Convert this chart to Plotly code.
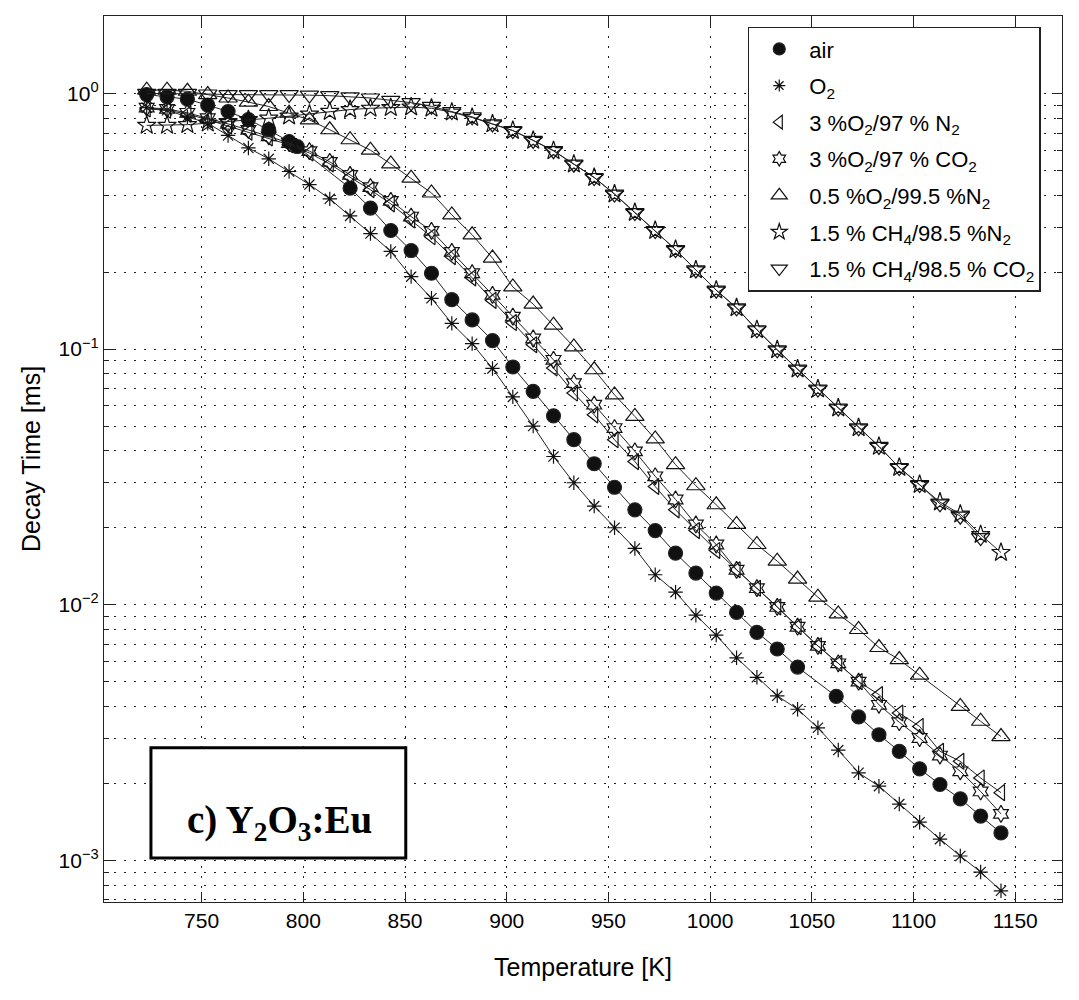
import plotly.graph_objects as go

# temperature grid of the measurements [K]
T = [723, 733, 743, 753, 763, 773, 783, 793, 803, 813, 823, 833, 843, 853, 863,
     873, 883, 893, 903, 913, 923, 933, 943, 953, 963, 973, 983, 993, 1003, 1013,
     1023, 1033, 1043, 1053, 1063, 1073, 1083, 1093, 1103, 1113, 1123, 1133, 1143]
T_air = [723, 733, 743, 753, 763, 773, 783, 793, 797, 823, 833, 843, 853, 863,
         873, 883, 893, 903, 913, 923, 933, 943, 953, 963, 973, 983, 993, 1003,
         1013, 1023, 1033, 1043, 1062, 1073, 1083, 1093, 1103, 1113, 1123, 1133, 1143]
T_05 = [723, 733, 743, 753, 763, 773, 783, 793, 803, 813, 823, 833, 843, 853, 863,
        873, 883, 893, 903, 913, 923, 933, 943, 953, 963, 973, 983, 993, 1003, 1013,
        1023, 1033, 1043, 1053, 1063, 1073, 1083, 1093, 1103, 1123, 1133, 1143]
T_ch4co2 = [723, 733, 743, 753, 763, 773, 783, 793, 803, 813, 823, 833, 843, 853, 863,
            873, 883, 893, 903, 913, 923, 933, 943, 953, 963, 973, 983, 993, 1003, 1013,
            1023, 1033, 1043, 1053, 1063, 1073, 1083, 1093, 1103, 1113, 1123, 1133]

# decay times [ms]
tau_air = [0.99, 0.97, 0.95, 0.90, 0.85, 0.79, 0.72, 0.648, 0.62, 0.426, 0.356, 0.291,
           0.243, 0.198, 0.156, 0.130, 0.108, 0.0851, 0.0683, 0.0548, 0.0442, 0.0356,
           0.0288, 0.0235, 0.0195, 0.0159, 0.0133, 0.0111, 0.00933, 0.0078, 0.00671,
           0.0057, 0.00438, 0.00364, 0.0031, 0.00267, 0.00228, 0.00198, 0.00174,
           0.00149, 0.00128]
tau_o2 = [0.88, 0.86, 0.81, 0.765, 0.685, 0.612, 0.555, 0.495, 0.44, 0.387, 0.332,
          0.283, 0.241, 0.192, 0.158, 0.126, 0.105, 0.084, 0.065, 0.050, 0.038, 0.030,
          0.0243, 0.020, 0.0166, 0.0131, 0.0112, 0.0091, 0.0076, 0.0062, 0.0052,
          0.0044, 0.0039, 0.0033, 0.0027, 0.0022, 0.00195, 0.00166, 0.00141, 0.00121,
          0.00104, 0.0009, 0.00076]
tau_3o2_n2 = [0.87, 0.86, 0.83, 0.79, 0.745, 0.705, 0.67, 0.63, 0.585, 0.53, 0.47,
              0.42, 0.37, 0.32, 0.275, 0.23, 0.19, 0.155, 0.127, 0.104, 0.0843, 0.0673,
              0.0553, 0.0442, 0.0363, 0.029, 0.0235, 0.0195, 0.0163, 0.0137, 0.0116,
              0.0098, 0.0082, 0.0069, 0.0059, 0.0050, 0.00445, 0.00377, 0.00334,
              0.00267, 0.00244, 0.0021, 0.00184]
tau_3o2_co2 = [0.88, 0.87, 0.84, 0.80, 0.76, 0.72, 0.68, 0.64, 0.595, 0.54, 0.48,
               0.43, 0.38, 0.33, 0.29, 0.24, 0.198, 0.163, 0.134, 0.110, 0.0908, 0.0736,
               0.0606, 0.0491, 0.0398, 0.0318, 0.0258, 0.0206, 0.0172, 0.0137, 0.0116,
               0.0098, 0.0082, 0.0069, 0.0059, 0.0050, 0.00406, 0.00347, 0.00301,
               0.00257, 0.00223, 0.00186, 0.00152]
tau_05o2_n2 = [1.03, 1.03, 1.02, 0.99, 0.96, 0.925, 0.889, 0.837, 0.788, 0.721, 0.659,
               0.600, 0.530, 0.466, 0.408, 0.335, 0.280, 0.227, 0.175, 0.150, 0.124,
               0.102, 0.083, 0.0662, 0.0545, 0.0445, 0.0353, 0.0292, 0.0246, 0.0206,
               0.0172, 0.0148, 0.0126, 0.0107, 0.0092, 0.0080, 0.0068, 0.0061, 0.0053,
               0.0040, 0.0035, 0.00305]
tau_ch4_n2 = [0.75, 0.75, 0.755, 0.765, 0.775, 0.79, 0.80, 0.815, 0.83, 0.85, 0.865,
              0.875, 0.88, 0.885, 0.875, 0.845, 0.805, 0.76, 0.716, 0.655, 0.597, 0.529,
              0.469, 0.404, 0.342, 0.291, 0.245, 0.204, 0.170, 0.145, 0.119, 0.0993,
              0.0835, 0.0698, 0.0588, 0.0492, 0.0416, 0.0344, 0.0295, 0.0252, 0.0226,
              0.0188, 0.016]
tau_ch4_co2 = [1.0, 1.0, 1.0, 0.995, 0.99, 0.99, 0.99, 0.99, 0.985, 0.98, 0.97, 0.96,
               0.94, 0.92, 0.89, 0.85, 0.81, 0.76, 0.716, 0.655, 0.597, 0.529, 0.469,
               0.404, 0.342, 0.291, 0.245, 0.204, 0.170, 0.145, 0.119, 0.0993, 0.0835,
               0.0698, 0.0588, 0.0492, 0.0416, 0.0344, 0.0295, 0.0248, 0.0222, 0.0183]

x_ticks = [750, 800, 850, 900, 950, 1000, 1050, 1100, 1150]
y_major = [0.001, 0.01, 0.1, 1]
y_labels = ["10<sup>\u22123</sup>", "10<sup>\u22122</sup>", "10<sup>\u22121</sup>", "10<sup>0</sup>"]
y_minor = [k * d for d in [0.0001, 0.001, 0.01, 0.1, 1] for k in range(2, 10)]

series = [
    ("air", T_air, tau_air, "circle", 14),
    ("O<sub>2</sub>", T, tau_o2, "asterisk-open", 12),
    ("3 %O<sub>2</sub>/97 % N<sub>2</sub>", T, tau_3o2_n2, "triangle-left-open", 14),
    ("3 %O<sub>2</sub>/97 % CO<sub>2</sub>", T, tau_3o2_co2, "hexagram-open", 13),
    ("0.5 %O<sub>2</sub>/99.5 %N<sub>2</sub>", T_05, tau_05o2_n2, "triangle-up-open", 16),
    ("1.5 % CH<sub>4</sub>/98.5 %N<sub>2</sub>", T, tau_ch4_n2, "star-open", 14),
    ("1.5 % CH<sub>4</sub>/98.5 % CO<sub>2</sub>", T_ch4co2, tau_ch4_co2, "triangle-down-open", 16),
]

FONT = "Liberation Sans, Arial, sans-serif"
GRID = dict(showgrid=True, gridcolor="#222", gridwidth=1, griddash="2px,8px")

fig = go.Figure()
for name, x, y, symbol, size in series:
    mk = dict(symbol=symbol, size=size, color="#111", line=dict(color="#222", width=1.2))
    fig.add_trace(go.Scatter(x=x, y=y, mode="lines+markers", showlegend=False,
                             line=dict(color="#222", width=1), marker=mk))
for n, (name, x, y, symbol, size) in enumerate(series):
    mk = dict(symbol=symbol, size=size - 2, color="#111", line=dict(color="#222", width=1.2))
    fig.add_trace(go.Scatter(name=name, x=[None], y=[None], mode="markers",
                             legendgroup=str(n), marker=mk))

fig.add_shape(type="rect", xref="paper", yref="paper", x0=0.049, x1=0.315, y0=0.0497, y1=0.174,
              line=dict(color="black", width=3), fillcolor="white", layer="above")
fig.add_annotation(xref="paper", yref="paper", x=0.183, y=0.09, xanchor="center", yanchor="middle",
                   showarrow=False,
                   text="<b>c) Y<sub>2</sub>O<sub>3</sub>:Eu</b>",
                   font=dict(family="Liberation Serif, Times New Roman, serif", size=39, color="black"))

# the page body adds 8px around the figure, so the figure is 8px smaller each way
fig.update_layout(
    width=1071, height=992,
    margin=dict(l=96, r=17, t=8, b=98),
    plot_bgcolor="white",
    paper_bgcolor="white",
    font=dict(family=FONT, size=21, color="black"),
    legend=dict(
        x=0.672, y=0.988, xanchor="left", yanchor="top",
        bgcolor="white", bordercolor="#222", borderwidth=1.5,
        font=dict(size=22),
        itemwidth=50,
        tracegroupgap=5,
    ),
    xaxis=dict(
        range=[702, 1173], tickvals=x_ticks,
        ticks="inside", ticklen=10, tickcolor="#222",
        showline=True, linecolor="#222", linewidth=1.3, mirror="ticks",
        zeroline=False, automargin=False,
        title=dict(text="Temperature [K]", standoff=27),
        **GRID
    ),
    yaxis=dict(
        type="log", range=[-3.163, 0.303],
        tickvals=y_major, ticktext=y_labels,
        ticks="inside", ticklen=10, tickcolor="#222",
        showline=True, linecolor="#222", linewidth=1.3, mirror="ticks",
        zeroline=False, automargin=False,
        minor=dict(tickvals=y_minor, ticks="inside", ticklen=5, tickcolor="#222", **GRID),
        title=dict(text="Decay Time [ms]", standoff=10),
        **GRID
    ),
)

fig.write_html("out.html")
